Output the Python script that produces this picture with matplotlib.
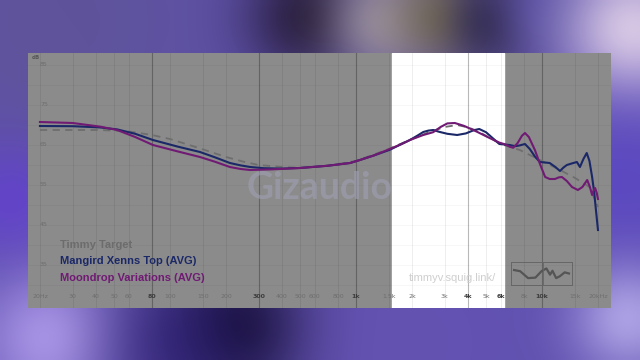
import numpy as np
import matplotlib
matplotlib.use("Agg")
import matplotlib.pyplot as plt

# frequency response values (Hz, dB)
mangird_f = [20, 30, 42, 52, 65, 81, 110, 145, 175, 210, 240, 270, 320, 400, 500, 700,
             930, 1050, 1250, 1520, 1750, 1950, 2150, 2300, 2450, 2600, 2800, 3100,
             3500, 3900, 4300, 4600, 5000, 5500, 5900, 6700, 7200, 7600, 8100, 8600,
             9200, 9750, 11000, 11800, 12500, 13000, 13600, 14500, 15400, 16000,
             16700, 17400, 18000, 18600, 19100, 19500, 20000]
mangird_db = [69.75, 69.7, 69.4, 68.9, 67.8, 66.25, 64.6, 63.25, 61.9, 60.5, 59.9, 59.5,
              59.2, 59.1, 59.25, 59.8, 60.5, 61.25, 62.4, 63.8, 65.2, 66.25, 67.4, 68.25,
              68.6, 68.75, 68.3, 67.8, 67.5, 67.9, 68.7, 69.0, 68.2, 66.5, 65.25, 65.0,
              64.7, 64.9, 65.25, 64.0, 62.0, 60.75, 60.5, 59.5, 58.5, 59.3, 60.0, 60.4,
              60.75, 59.5, 61.5, 63.0, 61.0, 57.0, 53.0, 48.75, 43.75]

moondrop_f = [20, 30, 42, 52, 65, 81, 110, 145, 175, 210, 240, 270, 350, 500, 700, 930,
              1050, 1250, 1520, 1750, 1950, 2300, 2600, 2850, 3100, 3400, 3800, 4200,
              4500, 5200, 5900, 6300, 6700, 7000, 7400, 7800, 8100, 8500, 9160, 9800,
              10400, 11000, 11750, 12300, 12800, 13600, 14500, 15600, 16500, 17500,
              18100, 18600, 19000, 19300, 19700, 20000]
moondrop_db = [70.75, 70.5, 69.6, 68.75, 67.0, 65.0, 63.4, 62.0, 60.8, 59.5, 59.0, 58.75,
               58.9, 59.25, 59.8, 60.5, 61.25, 62.4, 64.0, 65.2, 66.25, 67.5, 68.2, 69.5,
               70.4, 70.5, 69.8, 68.9, 68.25, 66.8, 65.6, 65.2, 64.6, 64.3, 65.5, 67.3,
               68.0, 67.0, 63.75, 60.0, 57.0, 56.5, 56.5, 56.9, 57.0, 56.0, 54.5, 53.75,
               54.5, 56.25, 54.5, 52.5, 53.8, 54.25, 53.0, 51.5]

target_f = [20, 42, 60, 80, 100, 127, 160, 200, 250, 300, 400, 500, 700, 1000, 1500,
            2000, 2500, 3000, 3500, 4000, 4500, 6000, 7600, 10000, 12500, 15000, 18000,
            20000]
target_db = [68.75, 68.75, 68.4, 67.5, 66.5, 65.0, 63.5, 62.0, 60.8, 60.0, 59.5, 59.3,
             59.8, 61.0, 64.0, 66.5, 68.3, 69.5, 70.0, 69.4, 68.5, 65.25, 63.75, 61.0,
             58.75, 56.8, 54.5, 49.5]

x_ticks = [20, 30, 40, 50, 60, 80, 100, 150, 200, 300, 400, 500, 600, 800, 1000,
           1500, 2000, 3000, 4000, 5000, 6000, 8000, 10000, 15000, 20000]
x_labels = ["20Hz", "30", "40", "50", "60", "80", "100", "150", "200", "300", "400",
            "500", "600", "800", "1k", "1.5k", "2k", "3k", "4k", "5k", "6k", "8k",
            "10k", "15k", "20kHz"]
x_major = [80, 300, 1000, 4000, 10000]
y_ticks = [85, 75, 65, 55, 45, 35]

names = ["Timmy Target", "Mangird Xenns Top (AVG)", "Moondrop Variations (AVG)"]
colors = ["#6c6c6c", "#1b2868", "#701a74"]

# logo thumbnail squiggle
logo_x = [0.05, 0.15, 0.28, 0.4, 0.5, 0.58, 0.64, 0.68, 0.74, 0.8, 0.88, 0.95]
logo_y = [0.65, 0.6, 0.3, 0.32, 0.6, 0.72, 0.45, 0.62, 0.3, 0.38, 0.55, 0.5]

fig = plt.figure(figsize=(6.4, 3.6), dpi=100)

# blurred purple backdrop
bg = fig.add_axes([0, 0, 1, 1])
W, H = 160, 90
X, Y = np.meshgrid(np.linspace(0, 640, W), np.linspace(0, 360, H))
img = np.ones((H, W, 3)) * np.array([95, 80, 175]) / 255
blobs = [
    (60, 20, 120, (95, 85, 150), 0.8),
    (310, 15, 45, (30, 20, 45), 0.9),
    (385, 20, 40, (160, 150, 165), 0.9),
    (440, 15, 35, (125, 115, 90), 0.9),
    (495, 20, 35, (40, 35, 60), 0.9),
    (550, 10, 40, (85, 75, 165), 0.8),
    (635, 30, 50, (230, 215, 235), 0.9),
    (625, 180, 60, (90, 70, 200), 0.7),
    (50, 340, 50, (180, 160, 240), 0.9),
    (240, 330, 50, (15, 10, 40), 0.95),
    (180, 350, 60, (40, 25, 110), 0.6),
    (400, 345, 80, (105, 85, 180), 0.6),
    (630, 320, 40, (190, 180, 240), 0.8),
    (10, 200, 40, (100, 60, 220), 0.6),
]
for cx, cy, r, col, s in blobs:
    w = s * np.exp(-((X - cx) ** 2 + (Y - cy) ** 2) / (2 * r ** 2))
    img = img * (1 - w[..., None]) + np.array(col) / 255 * w[..., None]
bg.imshow(img, extent=[0, 640, 360, 0], interpolation="bicubic", aspect="auto")
bg.axis("off")

# graph panel
ax = fig.add_axes([28 / 640, 1 - 308 / 360, 583 / 640, 255 / 360])
ax.set_facecolor("#8b8b8b")
ax.set_xscale("log")
ax.set_xlim(17.25, 23500)
ax.set_ylim(24.25, 88)
ax.axvspan(1560, 6250, color="white", zorder=0)
for v in range(30, 90, 5):
    ax.axhline(v, color="black", alpha=0.04, lw=0.6, zorder=1)
for f in x_ticks:
    if f in x_major:
        ax.axvline(f, color="black", alpha=0.28, lw=0.8, zorder=1)
    else:
        ax.axvline(f, color="black", alpha=0.08, lw=0.6, zorder=1)
for f, lab in zip(x_ticks, x_labels):
    bold = f in x_major or f == 6000
    ax.text(f, 27.25, lab, ha="center", va="center", fontsize=4.5,
            color="#3c3c3c" if bold else "#6e6e6e",
            fontweight="bold" if bold else "normal")
for v in y_ticks:
    ax.text(21, v, str(v), ha="center", va="center", fontsize=4.5, color="#6e6e6e")
ax.text(19, 86.8, "dB", ha="center", va="center", fontsize=4, color="#555555",
        fontweight="bold")
ax.set_xticks([])
ax.set_yticks([])
ax.minorticks_off()
for s in ax.spines.values():
    s.set_visible(False)

# watermark
fig.text(0.5, 1 - 188 / 360, "Gizaudio", ha="center", va="center", fontsize=27,
         fontweight="bold", family="Lato", color="#a0a0b4", alpha=0.6)
fig.text(452 / 640, 1 - 278 / 360, "timmyv.squig.link/", ha="center", va="center",
         fontsize=8, color="#cfcfcf", family="Liberation Sans")

ax.plot(target_f, target_db, color="#6e6e6e", lw=1.3, ls=(0, (4, 3)), zorder=3)
ax.plot(mangird_f, mangird_db, color=colors[1], lw=1.5, zorder=4,
        solid_joinstyle="round")
ax.plot(moondrop_f, moondrop_db, color=colors[2], lw=1.5, zorder=5,
        solid_joinstyle="round")

for i, (n, c) in enumerate(zip(names, colors)):
    fig.text(60 / 640, 1 - (245 + 16.5 * i) / 360, n, ha="left", va="center",
             fontsize=8, fontweight="bold", color=c, family="Liberation Sans")

# logo thumbnail
lg = fig.add_axes([511 / 640, 1 - 285 / 360, 61 / 640, 23 / 360])
lg.set_facecolor("none")
lg.plot(logo_x, logo_y, color="#555555", lw=1.6)
lg.axvline(0.52, color="#666666", lw=0.6)
lg.set_xlim(0, 1)
lg.set_ylim(0, 1)
lg.set_xticks([])
lg.set_yticks([])
for s in lg.spines.values():
    s.set_color("#666666")
    s.set_linewidth(0.7)

fig.savefig("out.png", dpi=100)
